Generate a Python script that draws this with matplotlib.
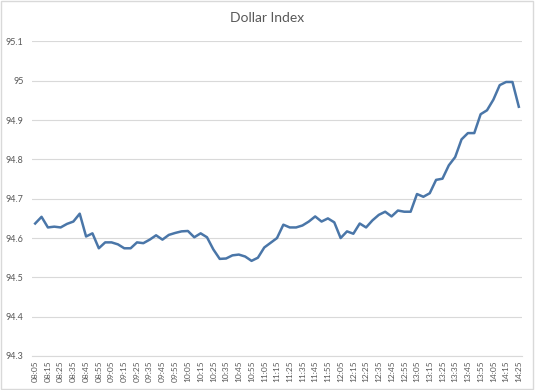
import matplotlib
matplotlib.use("Agg")
import matplotlib.pyplot as plt
from matplotlib.patches import Rectangle

# Time of each 5-minute reading
times = [
    "08:05", "08:10", "08:15", "08:20", "08:25", "08:30", "08:35", "08:40", "08:45", "08:50",
    "08:55", "09:00", "09:05", "09:10", "09:15", "09:20", "09:25", "09:30", "09:35", "09:40",
    "09:45", "09:50", "09:55", "10:00", "10:05", "10:10", "10:15", "10:20", "10:25", "10:30",
    "10:35", "10:40", "10:45", "10:50", "10:55", "11:00", "11:05", "11:10", "11:15", "11:20",
    "11:25", "11:30", "11:35", "11:40", "11:45", "11:50", "11:55", "12:00", "12:05", "12:10",
    "12:15", "12:20", "12:25", "12:30", "12:35", "12:40", "12:45", "12:50", "12:55", "13:00",
    "13:05", "13:10", "13:15", "13:20", "13:25", "13:30", "13:35", "13:40", "13:45", "13:50",
    "13:55", "14:00", "14:05", "14:10", "14:15", "14:20", "14:25",
]

# Dollar index readings
dollar_index = [
    94.637, 94.654, 94.627, 94.629, 94.627, 94.636, 94.642, 94.662, 94.604, 94.612,
    94.574, 94.589, 94.589, 94.584, 94.574, 94.574, 94.589, 94.587, 94.596, 94.607,
    94.596, 94.608, 94.613, 94.617, 94.618, 94.602, 94.612, 94.602, 94.571, 94.547,
    94.548, 94.556, 94.558, 94.553, 94.542, 94.550, 94.576, 94.588, 94.600, 94.634,
    94.627, 94.627, 94.632, 94.642, 94.655, 94.642, 94.650, 94.640, 94.600, 94.617,
    94.611, 94.637, 94.627, 94.645, 94.659, 94.667, 94.655, 94.670, 94.667, 94.667,
    94.712, 94.705, 94.714, 94.748, 94.751, 94.785, 94.806, 94.851, 94.867, 94.867,
    94.915, 94.925, 94.952, 94.989, 94.997, 94.997, 94.934,
]

# Y axis ticks and their labels
y_ticks = [94.3, 94.4, 94.5, 94.6, 94.7, 94.8, 94.9, 95.0, 95.1]
y_labels = ["94.3", "94.4", "94.5", "94.6", "94.7", "94.8", "94.9", "95", "95.1"]

plt.rcParams['font.family'] = ['Lato', 'DejaVu Sans']
grey_text = '#595959'
grid_grey = '#d9d9d9'

fig = plt.figure(figsize=(5.35, 3.9), dpi=100)
ax = fig.add_axes([0.0598, 0.0872, 0.9159, 0.8064])

x = list(range(len(times)))
ax.plot(x, dollar_index, color='#4a76a8', linewidth=1.8, solid_joinstyle='round', zorder=3)

ax.set_xlim(-0.5, len(times) - 0.5)
ax.set_ylim(94.3, 95.1)

ax.set_yticks(y_ticks)
ax.set_yticklabels(y_labels)
ax.set_xticks(x[::2])
ax.set_xticklabels(times[::2], rotation=90)

ax.tick_params(axis='y', length=0, pad=6, labelsize=6.5, labelcolor=grey_text)
ax.tick_params(axis='x', length=0, pad=3, labelsize=6, labelcolor=grey_text)

ax.yaxis.grid(True, color=grid_grey, linewidth=0.8)
ax.set_axisbelow(True)
for side in ['left', 'right', 'top']:
    ax.spines[side].set_visible(False)
ax.spines['bottom'].set_color(grid_grey)
ax.spines['bottom'].set_linewidth(0.8)

fig.text(0.5, 1 - 18 / 390, "Dollar Index", ha='center', va='center',
         fontsize=10, color=grey_text)

# light border round the whole chart
fig.patches.append(Rectangle((0.002, 0.003), 0.995, 0.994, transform=fig.transFigure,
                             fill=False, edgecolor=grid_grey, linewidth=1))

fig.savefig("out.png", dpi=100)
